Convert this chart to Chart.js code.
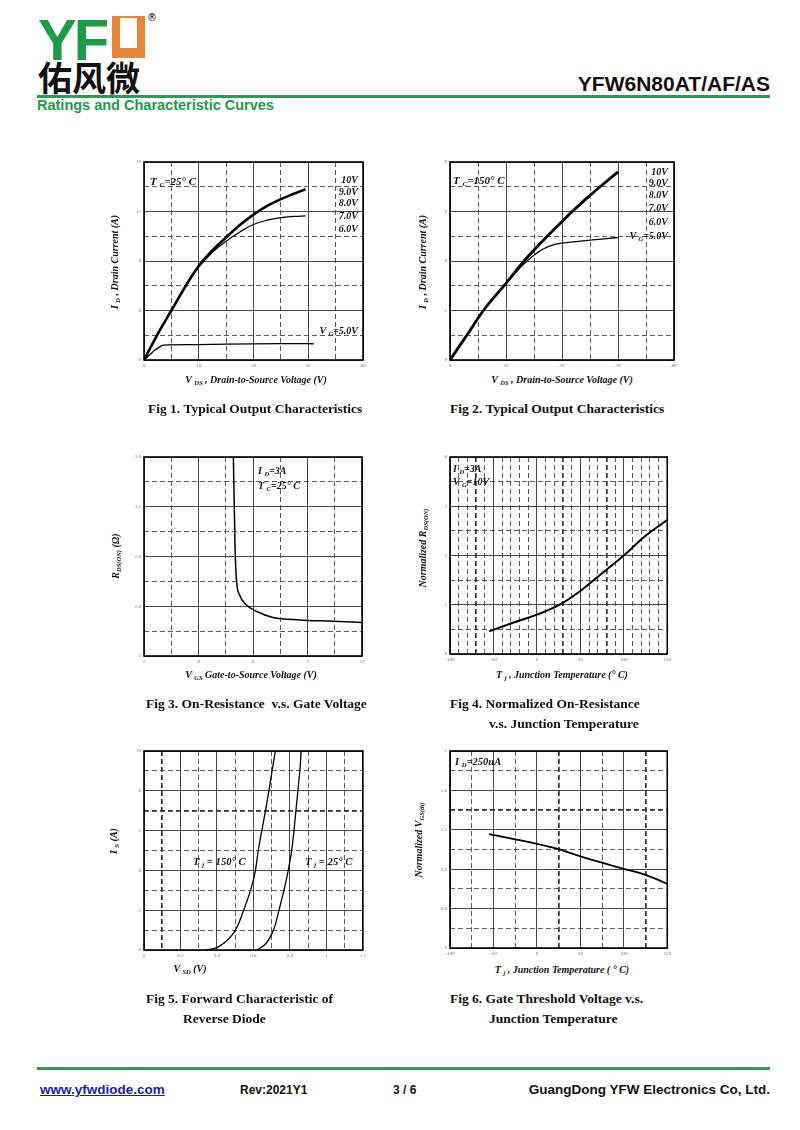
<!DOCTYPE html>
<html>
<head>
<meta charset="utf-8">
<script src="https://cdn.jsdelivr.net/npm/chart.js@4.4.0/dist/chart.umd.min.js"></script>
<style>
body{margin:0;width:800px;height:1130px;position:relative;background:#fff;overflow:hidden}
canvas{position:absolute}
.txt{position:absolute;white-space:nowrap}
.hd{font-family:"Liberation Sans",Arial,sans-serif;font-weight:bold}
.t{position:absolute;white-space:nowrap;font-family:"Liberation Serif",serif;font-weight:bold;font-style:italic;font-size:10px;color:#111;line-height:1}
.t sub{font-size:65%;vertical-align:-2px}
.yt{transform:translate(-50%,-50%) rotate(-90deg)}
.xt{transform:translate(-50%,-50%)}
.r{transform:translateX(-100%)}
.cap{position:absolute;white-space:nowrap;font-family:"Liberation Serif",serif;font-weight:bold;font-size:13.5px;color:#111}
</style>
</head>
<body>
<!-- header -->
<div class="txt hd" style="left:38px;top:6px;font-size:58px;color:#1f9a48;letter-spacing:-3px">YF</div>
<div style="position:absolute;left:112px;top:16px;width:33px;height:42px;background:#e8873a"></div>
<div style="position:absolute;left:120px;top:16px;width:17px;height:32px;background:#fff"></div>
<div style="position:absolute;left:120px;top:16px;width:17px;height:2px;background:#e8873a"></div>
<div class="txt" style="left:147px;top:12px;font-size:10px;font-family:'DejaVu Sans'">®</div>
<div class="txt" style="left:38px;top:58px;font-size:34px;font-family:'Noto Sans CJK SC';font-weight:bold;color:#111;line-height:1.1">佑风微</div>
<div class="txt hd" style="right:30px;top:72px;font-size:21px;color:#111">YFW6N80AT/AF/AS</div>
<div style="position:absolute;left:37px;top:95px;width:733px;height:2.5px;background:#1fa054"></div>
<div class="txt hd" style="left:37px;top:97px;font-size:14.5px;color:#1f9a48">Ratings and Characteristic Curves</div>

<!-- charts -->
<canvas id="c1"></canvas><canvas id="c2"></canvas><canvas id="c3"></canvas>
<canvas id="c4"></canvas><canvas id="c5"></canvas><canvas id="c6"></canvas>

<!-- fig 1 texts -->
<div class="t" style="left:150px;top:176px;font-size:11px">T <sub>C</sub>=25° C</div>
<div class="t r" style="left:358px;top:175px">10V</div>
<div class="t r" style="left:358px;top:187px">9.0V</div>
<div class="t r" style="left:358px;top:198px">8.0V</div>
<div class="t r" style="left:358px;top:211px">7.0V</div>
<div class="t r" style="left:358px;top:224px">6.0V</div>
<div class="t r" style="left:358px;top:326px">V <sub>G</sub>=5.0V</div>
<div class="t yt" style="left:116px;top:262px">I <sub>D</sub> , Drain Current (A)</div>
<div class="t xt" style="left:256px;top:381px">V <sub>DS</sub> , Drain-to-Source Voltage (V)</div>
<div class="cap" style="left:148px;top:401px">Fig 1. Typical Output Characteristics</div>

<!-- fig 2 texts -->
<div class="t" style="left:453px;top:175px;font-size:11px">T <sub>C</sub>=150° C</div>
<div class="t r" style="left:668px;top:167px">10V</div>
<div class="t r" style="left:668px;top:178px">9.0V</div>
<div class="t r" style="left:668px;top:190px">8.0V</div>
<div class="t r" style="left:668px;top:203px">7.0V</div>
<div class="t r" style="left:668px;top:217px">6.0V</div>
<div class="t r" style="left:668px;top:231px">V <sub>G</sub>=5.0V</div>
<div class="t yt" style="left:424px;top:262px">I <sub>D</sub> , Drain Current (A)</div>
<div class="t xt" style="left:562px;top:381px">V <sub>DS</sub> , Drain-to-Source Voltage (V)</div>
<div class="cap" style="left:450px;top:401px">Fig 2. Typical Output Characteristics</div>

<!-- fig 3 texts -->
<div class="t" style="left:258px;top:466px">I <sub>D</sub>=3A</div>
<div class="t" style="left:258px;top:481px">T <sub>C</sub>=25° C</div>
<div class="t yt" style="left:117px;top:556px">R<sub>DS(ON)</sub> (Ω)</div>
<div class="t xt" style="left:251px;top:676px">V <sub>GS</sub> Gate-to-Source Voltage (V)</div>
<div class="cap" style="left:146px;top:696px">Fig 3. On-Resistance &nbsp;v.s. Gate Voltage</div>

<!-- fig 4 texts -->
<div class="t" style="left:453px;top:464px">I <sub>D</sub>=3A</div>
<div class="t" style="left:453px;top:477px">V <sub>G</sub>=10V</div>
<div class="t yt" style="left:424px;top:548px">Normalized R<sub>DS(ON)</sub></div>
<div class="t xt" style="left:562px;top:676px">T <sub>j</sub> , Junction Temperature (° C)</div>
<div class="cap" style="left:450px;top:696px">Fig 4. Normalized On-Resistance</div>
<div class="cap" style="left:489px;top:716px">v.s. Junction Temperature</div>

<!-- fig 5 texts -->
<div class="t" style="left:193px;top:856px;font-size:10.7px">T <sub>j</sub> = 150° C</div>
<div class="t" style="left:305px;top:856px;font-size:10.7px">T <sub>j</sub> = 25° C</div>
<div class="t yt" style="left:115px;top:841px">I <sub>S</sub> (A)</div>
<div class="t xt" style="left:190px;top:970px">V <sub>SD</sub> (V)</div>
<div class="cap" style="left:146px;top:991px">Fig 5. Forward Characteristic of</div>
<div class="cap" style="left:183px;top:1011px">Reverse Diode</div>

<!-- fig 6 texts -->
<div class="t" style="left:455px;top:757px;font-size:10.5px">I <sub>D</sub>=250uA</div>
<div class="t yt" style="left:420px;top:840px">Normalized V<sub>GS(th)</sub></div>
<div class="t xt" style="left:562px;top:971px">T <sub>j</sub> , Junction Temperature ( ° C)</div>
<div class="cap" style="left:450px;top:991px">Fig 6. Gate Threshold Voltage v.s.</div>
<div class="cap" style="left:489px;top:1011px">Junction Temperature</div>

<!-- footer -->
<div style="position:absolute;left:37px;top:1067px;width:733px;height:2.5px;background:#1fa054"></div>
<div class="txt hd" style="left:40px;top:1082px;font-size:13.5px;color:#1d1da8;text-decoration:underline">www.yfwdiode.com</div>
<div class="txt hd" style="left:240px;top:1083px;font-size:12px;color:#111">Rev:2021Y1</div>
<div class="txt hd" style="left:393px;top:1083px;font-size:12px;color:#111">3 / 6</div>
<div class="txt hd" style="right:30px;top:1082px;font-size:13.5px;color:#111">GuangDong YFW Electronics Co, Ltd.</div>

<script>
// Fig 1: Tc = 25C
var f1Vds = [0, 2.5, 5, 7.5, 10, 12.5, 15, 17.5, 20, 22.5, 25, 27.5, 29.5];
var f1Id10 = [0, 2.1, 4.0, 5.9, 7.6, 8.85, 9.9, 10.9, 11.75, 12.45, 13.0, 13.45, 13.8];
var f1Id6 = [0, 2.1, 4.0, 5.9, 7.5, 8.7, 9.6, 10.35, 10.95, 11.3, 11.5, 11.6, 11.65];
var f1Vds5 = [0, 1, 2, 3, 3.5, 5, 10, 20, 30, 31];
var f1Id5 = [0, 0.4, 0.8, 1.1, 1.2, 1.22, 1.25, 1.3, 1.33, 1.3];

// Fig 2: Tc = 150C
var f2Vds = [0, 3, 6.3, 10, 14, 20, 25, 30];
var f2Id10 = [0, 1.0, 2.1, 3.1, 4.2, 5.6, 6.65, 7.6];
var f2Vds5 = [0, 3, 6.3, 10, 12, 14, 16, 18, 20, 25, 30];
var f2Id5 = [0, 1.0, 2.1, 3.1, 3.6, 4.05, 4.4, 4.62, 4.72, 4.84, 4.95];

// Fig 3: Rds(on) vs Vgs
var f3Vgs = [5.28, 5.34, 5.39, 5.51, 5.76, 6.12, 6.73, 7.71, 8.94, 10];
var f3Rds = [3.6, 2.89, 2.62, 2.49, 2.41, 2.36, 2.31, 2.29, 2.28, 2.27];

// Fig 4: normalized Rds(on) vs Tj
var f4Tj = [-55, -25, 0, 25, 50, 75, 100, 125, 150];
var f4R = [0.46, 0.65, 0.80, 0.99, 1.28, 1.64, 2.0, 2.40, 2.72];

// Fig 5: body diode
var f5Vsd150 = [0.34, 0.41, 0.49, 0.54, 0.60, 0.63, 0.67, 0.70, 0.72];
var f5Is150 = [0, 0.17, 0.84, 1.84, 3.52, 5.19, 7.2, 8.88, 10];
var f5Vsd25 = [0.62, 0.67, 0.71, 0.74, 0.78, 0.81, 0.835, 0.853, 0.862];
var f5Is25 = [0, 0.34, 1.0, 2.0, 3.52, 5.03, 7.2, 8.88, 10];

// Fig 6: normalized Vgs(th) vs Tj
var f6Tj = [-55, 0, 25, 50, 75, 100, 125, 150];
var f6V = [1.155, 1.057, 1.003, 0.93, 0.866, 0.804, 0.743, 0.652];

function pts(xs, ys) {
    return xs.map(function(x, i) { return {x: x, y: ys[i]}; });
}
function isMul(v, m) {
    var r = v / m;
    return Math.abs(r - Math.round(r)) < 1e-6;
}
function fmt(v) {
    return String(Number(v.toFixed(3)));
}

// axis with solid major lines, dashed minor lines
function axis(min, max, minor, major, heavy) {
    heavy = heavy || [];
    return {
        type: 'linear', min: min, max: max,
        ticks: {
            stepSize: minor, autoSkip: false, maxRotation: 0, padding: 3,
            color: '#777',
            font: {size: 5, family: 'Liberation Serif', style: 'italic'},
            callback: function(v) { return isMul(v, major) ? fmt(v) : ''; }
        },
        grid: {
            drawTicks: false,
            color: '#333',
            lineWidth: function(c) {
                var v = c.tick ? c.tick.value : 0;
                if (isMul(v, major)) return 0.9;
                for (var i = 0; i < heavy.length; i++) if (Math.abs(heavy[i] - v) < 1e-6) return 1.7;
                return 0.8;
            }
        },
        border: {
            display: false,
            dash: function(c) { return (c.tick && !isMul(c.tick.value, major)) ? [5, 3] : []; }
        }
    };
}

var frame = {
    id: 'frame',
    afterDraw: function(ch) {
        var a = ch.chartArea, c = ch.ctx;
        c.save();
        c.lineWidth = 1.6;
        c.strokeStyle = '#000';
        c.strokeRect(a.left, a.top, a.right - a.left, a.bottom - a.top);
        c.restore();
    }
};

function makeChart(id, box, datasets, xa, ya) {
    var cv = document.getElementById(id);
    var w = box[2] - box[0] + 36, h = box[3] - box[1] + 20;
    cv.style.left = (box[0] - 30) + 'px';
    cv.style.top = (box[1] - 6) + 'px';
    cv.style.width = w + 'px';
    cv.style.height = h + 'px';
    cv.width = w; cv.height = h;
    xa.afterFit = function(s) { s.height = 14; };
    ya.afterFit = function(s) { s.width = 30; };
    new Chart(cv.getContext('2d'), {
        type: 'line',
        data: {datasets: datasets.map(function(d) {
            return {
                data: d.data, borderColor: '#000', borderWidth: d.w,
                pointRadius: 0, fill: false,
                cubicInterpolationMode: d.mono ? 'monotone' : 'default',
                tension: 0.4
            };
        })},
        options: {
            responsive: false, animation: false,
            layout: {padding: {top: 6, right: 6, left: 0, bottom: 0}},
            plugins: {legend: {display: false}, tooltip: {enabled: false}},
            scales: {x: xa, y: ya}
        },
        plugins: [frame]
    });
}

makeChart('c1', [144, 162, 363, 360], [
    {data: pts(f1Vds, f1Id10), w: 2.6},
    {data: pts(f1Vds, f1Id6), w: 1.2},
    {data: pts(f1Vds5, f1Id5), w: 1.3}
], axis(0, 40, 5, 10), axis(0, 16, 2, 4));

makeChart('c2', [450, 162, 674, 360], [
    {data: pts(f2Vds, f2Id10), w: 2.8},
    {data: pts(f2Vds5, f2Id5), w: 1.3}
], axis(0, 40, 5, 10), axis(0, 8, 1, 2));

makeChart('c3', [144, 457, 362, 656], [
    {data: pts(f3Vgs, f3Rds), w: 1.5, mono: true}
], axis(2, 10, 1, 2), axis(2.0, 3.6, 0.2, 0.4));

makeChart('c4', [450, 457, 668, 654], [
    {data: pts(f4Tj, f4R), w: 2}
], axis(-100, 150, 10, 50, [-70, 30, 80]), axis(0, 4, 0.5, 1));

makeChart('c5', [144, 751, 363, 950], [
    {data: pts(f5Vsd150, f5Is150), w: 1.3},
    {data: pts(f5Vsd25, f5Is25), w: 1.3}
], axis(0, 1.2, 0.1, 0.2, [0.1]), axis(0, 10, 1, 2, [7]));

makeChart('c6', [450, 751, 668, 948], [
    {data: pts(f6Tj, f6V), w: 1.8}
], axis(-100, 150, 25, 50, [25, 125]), axis(0, 2, 0.2, 0.4, [1.4]));
</script>
</body>
</html>
